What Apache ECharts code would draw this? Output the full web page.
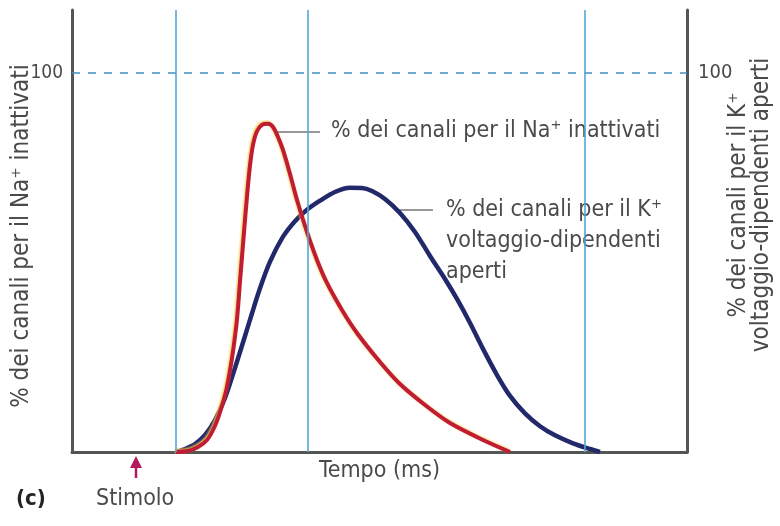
<!DOCTYPE html>
<html>
<head>
<meta charset="utf-8">
<script src="https://cdn.jsdelivr.net/npm/echarts@6/dist/echarts.min.js"></script>
<style>
    html, body { margin: 0; padding: 0; background: #fff; }
    #chart { width: 780px; height: 526px; }
</style>
</head>
<body>
<div id="chart"></div>
<script>
    // tempo in unità arbitrarie (0..10), percentuale 0..100
    var naX = [1.691, 1.886, 2.049, 2.195, 2.309, 2.407, 2.504, 2.569, 2.618, 2.683, 2.732, 2.797, 2.846, 2.894, 2.943, 3.008, 3.089, 3.187, 3.268, 3.350, 3.431, 3.545, 3.659, 3.821, 3.984, 4.146, 4.390, 4.634, 5.008, 5.333, 5.740, 6.146, 6.683, 7.122];
    var naY = [0, 0.26, 1.32, 3.17, 6.33, 10.55, 16.0, 21.5, 26.5, 35.0, 45.0, 58.0, 67.5, 75.5, 81.0, 84.6, 86.3, 86.6, 85.75, 83.11, 79.68, 73.35, 66.49, 58.05, 50.66, 44.59, 37.47, 31.40, 23.75, 17.94, 12.40, 7.65, 3.17, 0];

    var kX = [1.691, 1.837, 2.000, 2.163, 2.325, 2.488, 2.650, 2.813, 2.927, 3.057, 3.220, 3.431, 3.626, 3.821, 4.033, 4.276, 4.520, 4.715, 4.878, 5.089, 5.333, 5.577, 5.821, 6.065, 6.260, 6.472, 6.683, 6.911, 7.122, 7.366, 7.610, 7.854, 8.146, 8.423, 8.585];
    var kY = [0, 0.79, 2.11, 4.49, 8.44, 14.25, 22.16, 30.6, 36.6, 43.2, 50.2, 56.8, 60.9, 63.9, 66.3, 68.6, 69.7, 69.66, 68.87, 66.75, 63.06, 58.05, 51.72, 45.65, 40.37, 34.04, 27.2, 20.3, 14.8, 10.2, 6.8, 4.4, 2.3, 0.8, 0];

    var vLines = [1.69, 3.84, 8.33];
    var refLevel = 100;

    var font = "'Liberation Sans Narrow', 'DejaVu Sans Condensed', sans-serif";
    var textColor = '#4a4a4a';

    function pairs(xs, ys) {
        var out = [];
        for (var i = 0; i < xs.length; i++) {
            out.push([xs[i], ys[i]]);
        }
        return out;
    }

    var chart = echarts.init(document.getElementById('chart'));

    var option = {
        backgroundColor: '#fff',
        animation: false,
        grid: {
            left: 72,
            right: 93,
            top: 10,
            bottom: 74,
            containLabel: false,
            outerBoundsMode: 'none'
        },
        xAxis: {
            type: 'value',
            min: 0,
            max: 10,
            name: 'Tempo (ms)',
            nameLocation: 'middle',
            nameGap: 8,
            nameMoveOverlap: false,
            nameTextStyle: { color: textColor, fontSize: 23, fontFamily: font, verticalAlign: 'top' },
            axisLine: { show: true, onZero: false, lineStyle: { color: '#555', width: 3 } },
            axisTick: { show: false },
            axisLabel: { show: false },
            splitLine: { show: false }
        },
        yAxis: [{
            type: 'value',
            position: 'left',
            min: 0,
            max: 116.6,
            interval: 100,
            name: '% dei canali per il Na\u207A inattivati',
            nameLocation: 'middle',
            nameGap: 38,
            nameMoveOverlap: false,
            nameTextStyle: { color: textColor, fontSize: 24, fontFamily: font, padding: [0, 0, 0, -10] },
            axisLine: { show: true, lineStyle: { color: '#555', width: 3 } },
            axisTick: { show: false },
            axisLabel: {
                color: textColor, fontSize: 19, fontFamily: font, margin: 9,
                formatter: function (v) { return v === refLevel ? '100' : ''; }
            },
            splitLine: { show: false }
        }, {
            type: 'value',
            position: 'right',
            min: 0,
            max: 116.6,
            interval: 100,
            name: '% dei canali per il K\u207A\nvoltaggio-dipendenti aperti',
            nameLocation: 'middle',
            nameGap: 40,
            nameMoveOverlap: false,
            nameTextStyle: { color: textColor, fontSize: 24, fontFamily: font, lineHeight: 23, padding: [0, 0, 0, 52] },
            axisLine: { show: true, lineStyle: { color: '#555', width: 3 } },
            axisTick: { show: false },
            axisLabel: {
                color: textColor, fontSize: 20, fontFamily: font, margin: 11,
                formatter: function (v) { return v === refLevel ? '100' : ''; }
            },
            splitLine: { show: false }
        }],
        series: [{
            type: 'line',
            name: 'guide',
            data: [],
            silent: true,
            markLine: {
                symbol: 'none',
                silent: true,
                label: { show: false },
                data: [
                    { yAxis: refLevel, lineStyle: { color: '#3f8fc4', width: 1.5, type: [8, 8] } }
                ].concat(vLines.map(function (x) {
                    return { xAxis: x, lineStyle: { color: '#55a7d6', width: 1.6, type: 'solid' } };
                }))
            }
        }, {
            type: 'line',
            name: 'K',
            data: pairs(kX, kY),
            smooth: 0.3,
            showSymbol: false,
            lineStyle: { color: '#22296b', width: 4.5 }
        }, {
            type: 'line',
            name: 'Na',
            data: pairs(naX, naY),
            smooth: 0.3,
            showSymbol: false,
            lineStyle: { color: '#c01c35', width: 4, shadowColor: 'rgba(245, 200, 60, 0.9)', shadowBlur: 2, shadowOffsetX: -1, shadowOffsetY: -1 }
        }],
        graphic: [
            // richiami
            { type: 'line', shape: { x1: 277, y1: 132, x2: 320, y2: 132 }, style: { stroke: '#333', lineWidth: 1.2 } },
            { type: 'text', left: 331, top: 120, style: { text: '% dei canali per il Na\u207A inattivati', fill: textColor, font: '23px ' + font } },
            { type: 'line', shape: { x1: 397, y1: 210, x2: 433, y2: 210 }, style: { stroke: '#333', lineWidth: 1.2 } },
            { type: 'text', left: 446, top: 195, style: { text: '% dei canali per il K\u207A\nvoltaggio-dipendenti\naperti', fill: textColor, font: '23px ' + font, lineHeight: 31 } },
            // stimolo
            { type: 'polygon', shape: { points: [[136, 456], [130, 468], [142, 468]] }, style: { fill: '#b5175e' } },
            { type: 'line', shape: { x1: 136, y1: 466, x2: 136, y2: 478 }, style: { stroke: '#b5175e', lineWidth: 2.5 } },
            { type: 'text', left: 96, top: 488, style: { text: 'Stimolo', fill: textColor, font: '23px ' + font } },
            { type: 'text', left: 16, top: 488, style: { text: '(c)', fill: '#222', font: 'bold 22px ' + font } }
        ]
    };

    chart.setOption(option);
</script>
</body>
</html>
